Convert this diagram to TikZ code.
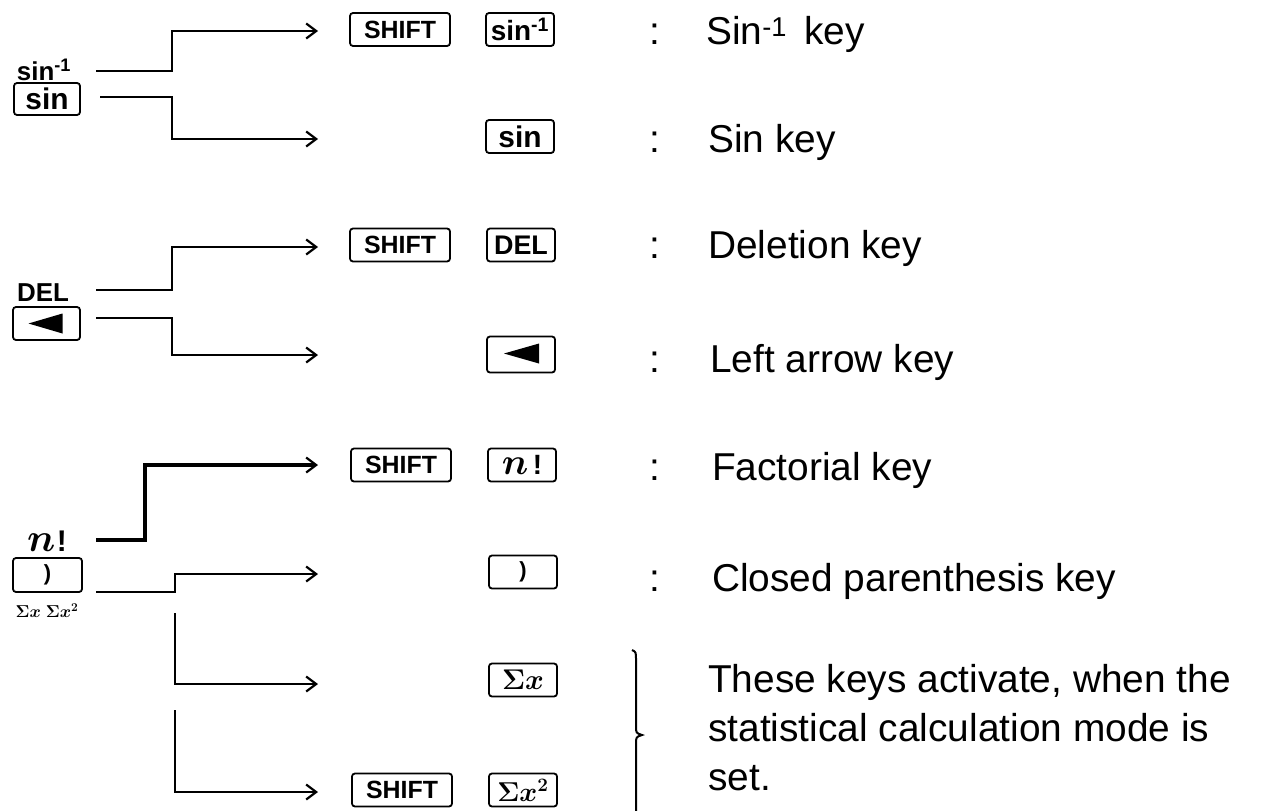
\documentclass[tikz,border=0pt]{standalone}
\usepackage{amsmath}
\usepackage{graphicx}
\usepackage{fontspec}
\setmainfont{Liberation Sans}
\usetikzlibrary{arrows.meta}
\newcommand{\bign}[1]{\scalebox{#1}{\fontsize{24}{24}\selectfont$\boldsymbol{n}$}}
\newcommand{\bigmath}[2]{\scalebox{#1}{\fontsize{24}{24}\selectfont$\boldsymbol{#2}$}}
\begin{document}
\begin{tikzpicture}[x=1bp,y=-1bp,
  key/.style={draw, line width=1.8bp, rounded corners=3bp, inner sep=0pt,
    minimum height=33bp, font=\bfseries\fontsize{27}{27}\selectfont},
  shiftkey/.style={key, minimum width=100bp, font=\bfseries\fontsize{25}{25}\selectfont},
  fkey/.style={key, minimum width=68bp},
  lbl/.style={inner sep=0pt, font=\bfseries\fontsize{26}{26}\selectfont},
  desc/.style={anchor=base west, inner sep=0pt, font=\fontsize{39}{39}\selectfont},
  colon/.style={anchor=base, inner sep=0pt, font=\fontsize{39}{39}\selectfont},
  conn/.style={line width=2.6bp, -{Straight Barb[length=10bp,width=15bp,line width=2.2bp]}}
]
\useasboundingbox (0,0) rectangle (1261,811);

% ---------- left labels ----------
\node[lbl] (l1) at (44,70) {sin\textsuperscript{-1}};
\node[key, minimum width=66bp, minimum height=32bp, font=\bfseries\fontsize{30}{30}\selectfont] (lk1) at (47,99) {sin};
\node[lbl] (l2) at (43,293) {DEL};
\node[key, minimum width=67bp] (lk2) at (46.5,323.5) {};
\fill ([xshift=-18bp]lk2.center) -- ++(34,-10) -- ++(0,20) -- cycle;
\node[inner sep=0pt] (l3) at (47,541) {\bign{1.6}\,{\fontsize{30}{30}\selectfont\bfseries !}};
\node[key, minimum width=69bp, minimum height=34bp, font=\bfseries\fontsize{22}{22}\selectfont] (lk3) at (47.5,575) {)};
\node[inner sep=0pt, font=\fontsize{17}{17}\selectfont] (l4) at (47,611) {$\boldsymbol{\Sigma x}\;\boldsymbol{\Sigma x^{2}}$};

% ---------- middle keys ----------
\node[shiftkey] (s1) at (400,29.5) {SHIFT};
\node[fkey, font=\bfseries\fontsize{28}{28}\selectfont] (k1) at (520,29.5) {sin\textsuperscript{-1}};
\node[fkey, font=\bfseries\fontsize{30}{30}\selectfont] (k2) at (520,136.5) {sin};
\node[shiftkey] (s3) at (400,245) {SHIFT};
\node[fkey] (k3) at (521,245) {DEL};
\node[fkey, minimum height=36bp] (k4) at (521,354.5) {};
\fill ([xshift=-17bp,yshift=1bp]k4.center) -- ++(35,-10) -- ++(0,20) -- cycle;
\node[shiftkey] (s5) at (401,465) {SHIFT};
\node[fkey] (k5) at (522,465) {\bign{1.5}\,{\fontsize{28}{28}\selectfont\bfseries !}};
\node[fkey, font=\bfseries\fontsize{22}{22}\selectfont] (k6) at (523,572) {)};
\node[fkey] (k7) at (523,680) {\bigmath{1.15}{\Sigma x}};
\node[shiftkey] (s8) at (402,790) {SHIFT};
\node[fkey] (k8) at (523,790) {\bigmath{1.1}{\Sigma x^{2}}};

% ---------- connectors ----------
\coordinate (j1) at (172,0);
\coordinate (j3) at (145,0);
\coordinate (j4) at (175,0);
\coordinate (a1) at (96,71);   \coordinate (e1) at (318,31);
\coordinate (a2) at (100,97);  \coordinate (e2) at (318,139);
\coordinate (a3) at (96,290);  \coordinate (e3) at (318,247);
\coordinate (a4) at (96,318);  \coordinate (e4) at (318,355);
\coordinate (a5) at (96,540);  \coordinate (e5) at (318,465);
\coordinate (a6) at (96,592);  \coordinate (e6) at (318,574);
\coordinate (a7) at (175,613); \coordinate (e7) at (318,684);
\coordinate (a8) at (175,710); \coordinate (e8) at (318,792);

\draw[conn] (a1) -- (a1 -| j1) |- (e1);
\draw[conn] (a2) -- (a2 -| j1) |- (e2);
\draw[conn] (a3) -- (a3 -| j1) |- (e3);
\draw[conn] (a4) -- (a4 -| j1) |- (e4);
\draw[conn, line width=3.2bp] (a5) -- (a5 -| j3) |- (e5);
\draw[conn] (a6) -- (a6 -| j4) |- (e6);
\draw[conn] (a7) |- (e7);
\draw[conn] (a8) |- (e8);

% ---------- descriptions ----------
\node[colon] (c1) at (655,45) {:};
\node[desc] (d1) at (706,45) {Sin\textsuperscript{-1}\, key};
\node[colon] (c2) at (655,152) {:};
\node[desc] (d2) at (708,152) {Sin key};
\node[colon] (c3) at (655,258) {:};
\node[desc] (d3) at (708,258) {Deletion key};
\node[colon] (c4) at (655,372) {:};
\node[desc] (d4) at (710,372) {Left arrow key};
\node[colon] (c5) at (655,480) {:};
\node[desc] (d5) at (712,480) {Factorial key};
\node[colon] (c6) at (655,591) {:};
\node[desc] (d6) at (712,591) {Closed parenthesis key};

% ---------- brace and note ----------
\draw[line width=2bp] (632,650) .. controls (636,652) .. (636,660) -- (636,726)
  .. controls (636,733) .. (642,735) .. controls (636,737) .. (636,744) -- (636,811);
\node[desc] (t1) at (708,692) {These keys activate, when the};
\node[desc] (t2) at (708,741) {statistical calculation mode is};
\node[desc] (t3) at (708,790) {set.};
\end{tikzpicture}
\end{document}
